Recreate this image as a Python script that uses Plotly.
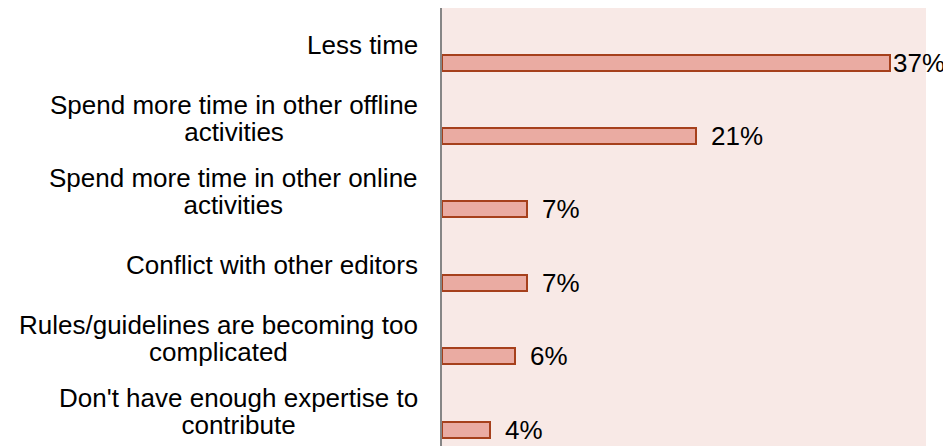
import plotly.graph_objects as go

categories = [
    "Less time",
    "Spend more time in other offline activities",
    "Spend more time in other online activities",
    "Conflict with other editors",
    "Rules/guidelines are becoming too complicated",
    "Don't have enough expertise to contribute",
]
label_lines = [
    ["Less time"],
    ["Spend more time in other offline", "activities"],
    ["Spend more time in other online", "activities"],
    ["Conflict with other editors"],
    ["Rules/guidelines are becoming too", "complicated"],
    ["Don't have enough expertise to", "contribute"],
]
values = [37, 21, 7, 7, 6, 4]
value_labels = ["37%", "21%", "7%", "7%", "6%", "4%"]

X_MAX = 40
BAR_OFFSET = 0.136
BAR_WIDTH = 0.218
FONT = "Arial, Liberation Sans, sans-serif"

fig = go.Figure()
fig.add_trace(go.Bar(
    y=categories,
    x=values,
    orientation="h",
    width=BAR_WIDTH,
    offset=BAR_OFFSET,
    marker=dict(color="#EAABA2", line=dict(color="#A6401C", width=2)),
    hoverinfo="skip",
    showlegend=False,
))

# category labels (centered multi-line blocks, right-aligned to the axis)
for i, lines in enumerate(label_lines):
    txt = "<br>".join(f"<span style='font-size:26px'>{ln}</span>" for ln in lines)
    fig.add_annotation(
        x=0, xref="paper", y=i, yref="y",
        text=txt, showarrow=False,
        xanchor="right", yanchor="middle", align="center",
        xshift=-22,
        font=dict(family=FONT, size=21, color="#000000"),
    )

# value labels at the end of each bar
for i, (v, lab) in enumerate(zip(values, value_labels)):
    fits = v < X_MAX - 4
    fig.add_annotation(
        x=v, xref="x", y=i + BAR_OFFSET + BAR_WIDTH / 2, yref="y",
        text=lab, showarrow=False,
        xanchor="left", yanchor="middle",
        xshift=13 if fits else 1,
        font=dict(family=FONT, size=26, color="#000000"),
    )

fig.update_layout(
    width=943, height=438,
    margin=dict(l=434, r=25, t=0, b=0),
    paper_bgcolor="#FFFFFF",
    plot_bgcolor="#F8E9E6",
    bargap=0,
    xaxis=dict(range=[0, X_MAX], showgrid=False, zeroline=False,
               showticklabels=False, ticks="", showline=False),
    yaxis=dict(type="category", range=[5.467, -0.5], showgrid=False,
               zeroline=False, showticklabels=False, ticks="",
               showline=True, linecolor="#868686", linewidth=2),
)

fig.write_html("out.html")
